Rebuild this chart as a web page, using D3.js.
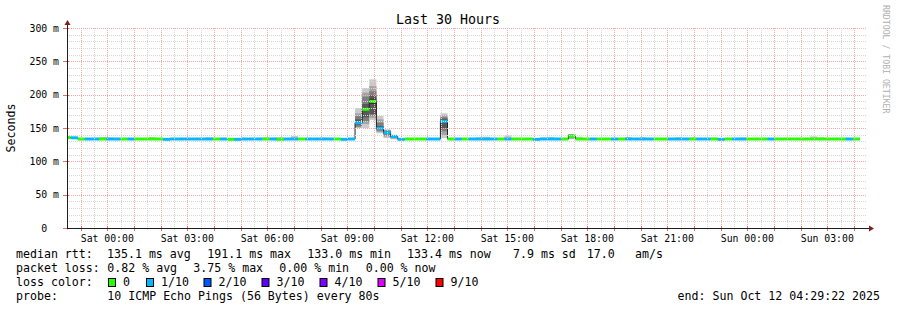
<!DOCTYPE html>
<html>
<head>
<meta charset="utf-8">
<script src="https://cdn.jsdelivr.net/npm/d3@7.9.0/dist/d3.min.js"></script>
<style>
  body { margin: 0; background: #fff; }
  text { font-family: "DejaVu Sans Mono", monospace; fill: #000; }
</style>
</head>
<body>
<svg id="chart" width="897" height="310"></svg>
<script>
// ------------------------------------------------------------
// Data (16 minute RRD columns, ms)
// ------------------------------------------------------------
const lossLabels = ["0", "1/10", "2/10", "3/10", "4/10", "5/10", "9/10"];
const lossColors = ["#26ff00", "#00b8ff", "#0059ff", "#5e00ff", "#7e00ff", "#dd00ff", "#ff0000"];

// median rtt per column
const medians = [
  135.7, 135.3, 133.5, 133.5, 133.5, 133.5, 133.5, 133.5, 133.5, 133.5,
  133.5, 133.5, 133.5, 133.5, 133.0, 133.5, 133.5, 133.5, 133.5, 133.5,
  133.5, 133.5, 133.5, 133.0, 133.0, 133.5, 133.5, 133.5, 133.5, 133.5,
  133.0, 133.5, 133.5, 133.5, 133.5, 133.5, 133.5, 133.5, 133.5, 133.0,
  133.5, 158.0, 178.0, 190.0, 149.5, 143.0, 137.2, 133.0, 133.5, 133.5,
  133.5, 133.5, 133.5, 160.0, 133.5, 133.5, 133.5, 133.5, 133.5, 133.5,
  133.5, 133.5, 133.5, 133.5, 133.5, 133.5, 133.0, 133.5, 133.5, 133.5,
  133.5, 138.0, 133.5, 133.5, 133.5, 133.5, 133.5, 133.5, 133.5, 133.5,
  133.5, 133.5, 133.5, 133.5, 133.5, 133.5, 133.5, 133.5, 133.5, 133.5,
  133.5, 133.5, 133.0, 133.5, 133.5, 133.5, 133.5, 133.5, 133.5, 133.5,
  133.5, 133.5, 133.5, 133.5, 133.5, 133.5, 133.5, 133.5, 133.5, 133.5,
  133.5, 133.5, null
];

// lost pings (out of 10) per column
const lossCount = [
  0, 1, 0, 1, 1, 0, 1, 1, 0, 1,
  0, 0, 0, 0, 1, 1, 1, 1, 1, 1,
  1, 0, 1, 0, 1, 1, 1, 1, 0, 1,
  0, 1, 1, 0, 1, 1, 1, 1, 0, 1,
  1, 1, 0, 0, 1, 1, 1, 1, 0, 0,
  0, 1, 1, 1, 0, 1, 0, 1, 1, 1,
  1, 0, 1, 0, 0, 0, 1, 1, 1, 1,
  0, 0, 0, 0, 1, 0, 0, 1, 0, 1,
  1, 1, 1, 0, 0, 1, 1, 1, 0, 1,
  1, 0, 1, 0, 1, 1, 0, 0, 0, 1,
  0, 0, 0, 0, 0, 0, 0, 0, 0, 0,
  1, 0, null
];

// top of the faint smoke on quiet columns (null = hidden under the median)
const smokeTop = [
  null, null, null, null, null, 136.5, 136.0, null, null, null,
  null, null, 136.5, null, null, null, null, null, null, null,
  136.0, null, null, null, null, null, null, null, 136.0, 135.5,
  136.5, null, 138.0, null, null, null, 135.5, null, null, null,
  135.0, null, null, null, null, null, null, null, null, null,
  null, null, null, null, null, null, null, null, 136.0, 137.0,
  null, null, 139.0, null, null, null, null, 135.5, 136.5, null,
  null, null, 137.0, null, null, null, null, null, null, 136.5,
  null, 136.0, null, null, null, null, 136.0, null, 136.0, null,
  null, 135.5, null, null, null, 135.5, null, null, null, null,
  null, null, null, null, null, 137.5, 136.0, null, null, null,
  null, null, null
];

// sorted pings for the columns with a visible spread
const spikeCols = [41, 42, 43, 44, 45, 46, 53, 71];
const spikePings = [
  [150, 151, 152, 155, 157, 159, 163, 168, 172, 180],
  [150, 156, 160, 166, 176, 180, 186, 197, 203, 210],
  [162, 165, 168, 171, 186, 194, 199, 205, 213, 223],
  [142, 144, 146, 148, 149, 150, 153, 158, 163, 168],
  [135, 137, 139, 141, 142, 144, 145, 146, 147, 148],
  [133, 134, 135, 136, 137, 137.5, 138, 138.5, 139, 140],
  [135, 139, 145, 150, 158, 162, 164, 166, 169, 172],
  [133, 134, 136, 137, 138, 138.5, 139, 140, 140.5, 141]
];
const smokeShades = ["#cacaca", "#a4a4a4", "#7e7e7e", "#585858", "#323232"];

const yTicks = [0, 50, 100, 150, 200, 250, 300];

const legendRows = [
  { label: "median rtt:", items: [
      [107, "135.1 ms avg"], [207.3, "191.1 ms max"], [307.3, "133.0 ms min"],
      [407, "133.4 ms now"], [513, "7.9 ms sd"], [586.7, "17.0"], [635, "am/s"]] },
  { label: "packet loss:", items: [
      [107.3, "0.82 % avg"], [193.3, "3.75 % max"], [279.3, "0.00 % min"], [365.7, "0.00 % now"]] },
  { label: "loss color:", items: [] },
  { label: "probe:", items: [[107.3, "10 ICMP Echo Pings (56 Bytes) every 80s"]] }
];
const lossSwatchX = [108, 146, 203.5, 261.5, 319.5, 377.5, 435.5];

// ------------------------------------------------------------
// Chart setup
// ------------------------------------------------------------
const svg = d3.select("#chart");
const plot = { left: 67, right: 867, top: 28, bottom: 228 };

const tEnd = Date.UTC(2025, 9, 12, 4, 29, 22);
const tStart = tEnd - 30 * 3600 * 1000;
const colStart = Date.UTC(2025, 9, 10, 22, 21, 30);
const colMs = 960 * 1000;

const x = d3.scaleUtc().domain([tStart, tEnd]).range([plot.left, plot.right]);
const y = d3.scaleLinear().domain([0, 300]).range([plot.bottom, plot.top]);

svg.append("rect").attr("width", 897).attr("height", 310).attr("fill", "#fff");

svg.append("clipPath").attr("id", "plotclip")
  .append("rect")
  .attr("x", plot.left).attr("y", plot.top - 5)
  .attr("width", plot.right - plot.left).attr("height", plot.bottom - plot.top + 5);

const g = svg.append("g").attr("clip-path", "url(#plotclip)");

const colX0 = i => x(colStart + i * colMs);
const colX1 = i => x(colStart + (i + 1) * colMs);

// faint smoke on quiet columns
g.selectAll("rect.smoke")
  .data(medians.map((m, i) => ({ i, m, top: smokeTop[i] })).filter(d => d.top != null && d.m != null))
  .enter().append("rect")
  .attr("x", d => colX0(d.i))
  .attr("width", d => colX1(d.i) - colX0(d.i))
  .attr("y", d => y(d.top))
  .attr("height", d => y(d.m) - y(d.top))
  .attr("fill", smokeShades[0]);

// layered smoke for the spike columns
spikeCols.forEach((c, k) => {
  const p = spikePings[k];
  for (let s = 0; s < 5; s++) {
    g.append("rect")
      .attr("x", colX0(c))
      .attr("width", colX1(c) - colX0(c))
      .attr("y", y(p[9 - s]))
      .attr("height", y(p[s]) - y(p[9 - s]))
      .attr("fill", smokeShades[s]);
  }
});

// dark median step line
const stepPts = [];
medians.forEach((m, i) => {
  if (m == null) return;
  stepPts.push([colX0(i), y(m)], [colX1(i), y(m)]);
});
g.append("path")
  .attr("d", d3.line()(stepPts))
  .attr("fill", "none")
  .attr("stroke", "#202020")
  .attr("stroke-width", 1);

// loss coloured median bands
g.selectAll("rect.median")
  .data(medians.map((m, i) => ({ i, m, loss: lossCount[i] })).filter(d => d.m != null))
  .enter().append("rect")
  .attr("x", d => colX0(d.i))
  .attr("width", d => colX1(d.i) - colX0(d.i))
  .attr("y", d => y(d.m) - 1.5)
  .attr("height", 3)
  .attr("fill", d => lossColors[Math.min(d.loss, 6)]);

// ------------------------------------------------------------
// Grid (drawn over the data, as rrdtool does)
// ------------------------------------------------------------
const grid = svg.append("g");
const minorY = d3.range(10, 301, 10).filter(v => v % 50 !== 0);
const px = v => Math.round(v) + 0.5;
const minorCol = "#d6d6d6", majorCol = "#f3a8a8";

grid.selectAll("line.hmin").data(minorY).enter().append("line")
  .attr("x1", plot.left).attr("x2", plot.right)
  .attr("y1", d => px(y(d))).attr("y2", d => px(y(d)))
  .attr("stroke", minorCol).attr("stroke-dasharray", "1,1");
grid.selectAll("line.hmaj").data(yTicks.filter(v => v > 0)).enter().append("line")
  .attr("x1", plot.left).attr("x2", plot.right)
  .attr("y1", d => px(y(d))).attr("y2", d => px(y(d)))
  .attr("stroke", majorCol).attr("stroke-dasharray", "1,1");

const halfHours = d3.utcMinute.every(30).range(new Date(tStart), new Date(tEnd))
  .filter(d => d.getUTCMinutes() === 30);
const hours = d3.utcHour.every(1).range(new Date(tStart), new Date(tEnd));

grid.selectAll("line.vmin").data(halfHours).enter().append("line")
  .attr("x1", d => px(x(d))).attr("x2", d => px(x(d)))
  .attr("y1", plot.top).attr("y2", plot.bottom)
  .attr("stroke", minorCol).attr("stroke-dasharray", "1,1");
grid.selectAll("line.vmaj").data(hours).enter().append("line")
  .attr("x1", d => px(x(d))).attr("x2", d => px(x(d)))
  .attr("y1", plot.top).attr("y2", plot.bottom)
  .attr("stroke", majorCol).attr("stroke-dasharray", "1,1");

// ticks outside the axes
grid.selectAll("line.xtmin").data(halfHours).enter().append("line")
  .attr("x1", d => px(x(d))).attr("x2", d => px(x(d)))
  .attr("y1", plot.bottom).attr("y2", plot.bottom + 2)
  .attr("stroke", minorCol);
grid.selectAll("line.xtmaj").data(hours).enter().append("line")
  .attr("x1", d => px(x(d))).attr("x2", d => px(x(d)))
  .attr("y1", plot.bottom - 2).attr("y2", plot.bottom + 3)
  .attr("stroke", "#e07070");
grid.selectAll("line.ytmaj").data(yTicks).enter().append("line")
  .attr("x1", plot.left - 4).attr("x2", plot.left + 2)
  .attr("y1", d => px(y(d))).attr("y2", d => px(y(d)))
  .attr("stroke", "#e07070");

// axes
svg.append("line")
  .attr("x1", plot.left + 0.5).attr("x2", plot.left + 0.5)
  .attr("y1", plot.bottom).attr("y2", plot.top - 4)
  .attr("stroke", "#1f1f1f");
svg.append("line")
  .attr("x1", plot.left).attr("x2", plot.right + 3)
  .attr("y1", plot.bottom + 0.5).attr("y2", plot.bottom + 0.5)
  .attr("stroke", "#1f1f1f");
svg.append("path")
  .attr("d", `M${plot.left + 0.5},${plot.top - 8} L${plot.left - 2.5},${plot.top - 3} L${plot.left + 3.5},${plot.top - 3} Z`)
  .attr("fill", "#801f1f");
svg.append("path")
  .attr("d", `M${plot.right + 7},${plot.bottom + 0.5} L${plot.right + 2},${plot.bottom - 2.5} L${plot.right + 2},${plot.bottom + 3.5} Z`)
  .attr("fill", "#801f1f");

// tick labels
const fmtX = d3.utcFormat("%a %H:%M");
svg.selectAll("text.xl").data(d3.utcHour.every(3).range(new Date(tStart), new Date(tEnd)))
  .enter().append("text")
  .attr("x", d => x(d)).attr("y", 241.5)
  .attr("text-anchor", "middle")
  .style("font-size", "9.8px")
  .text(d => fmtX(d));

svg.selectAll("text.yl").data(yTicks).enter().append("text")
  .attr("x", 59).attr("y", d => y(d) + 3.5)
  .attr("text-anchor", "end")
  .style("font-size", "9.8px")
  .style("white-space", "pre")
  .text(d => d === 0 ? "0  " : `${d} m`);

// titles
svg.append("text")
  .attr("x", 448).attr("y", 24)
  .attr("text-anchor", "middle")
  .style("font-size", "13.3px")
  .text("Last 30 Hours");

svg.append("text")
  .attr("transform", "translate(15,128) rotate(-90)")
  .attr("text-anchor", "middle")
  .style("font-size", "11.6px")
  .text("Seconds");

svg.append("text")
  .attr("transform", "translate(883,5) rotate(90)")
  .attr("text-anchor", "start")
  .style("font-size", "8.2px")
  .style("fill", "#b0b0b0")
  .text("RRDTOOL / TOBI OETIKER");

// ------------------------------------------------------------
// Legend
// ------------------------------------------------------------
const rowY = [258, 272, 286, 300];
legendRows.forEach((row, r) => {
  svg.append("text").attr("x", 16).attr("y", rowY[r])
    .style("font-size", "11.6px").text(row.label);
  row.items.forEach(([ix, t]) => {
    svg.append("text").attr("x", ix).attr("y", rowY[r])
      .style("font-size", "11.6px").text(t);
  });
});

lossLabels.forEach((lab, i) => {
  svg.append("rect")
    .attr("x", lossSwatchX[i] + 0.5).attr("y", 278.5)
    .attr("width", 7).attr("height", 8)
    .attr("fill", lossColors[i]).attr("stroke", "#000");
  svg.append("text").attr("x", lossSwatchX[i] + 15).attr("y", 286)
    .style("font-size", "11.6px").text(lab);
});

svg.append("text").attr("x", 880).attr("y", 300)
  .attr("text-anchor", "end")
  .style("font-size", "11.6px")
  .text("end: Sun Oct 12 04:29:22 2025");
</script>
</body>
</html>
